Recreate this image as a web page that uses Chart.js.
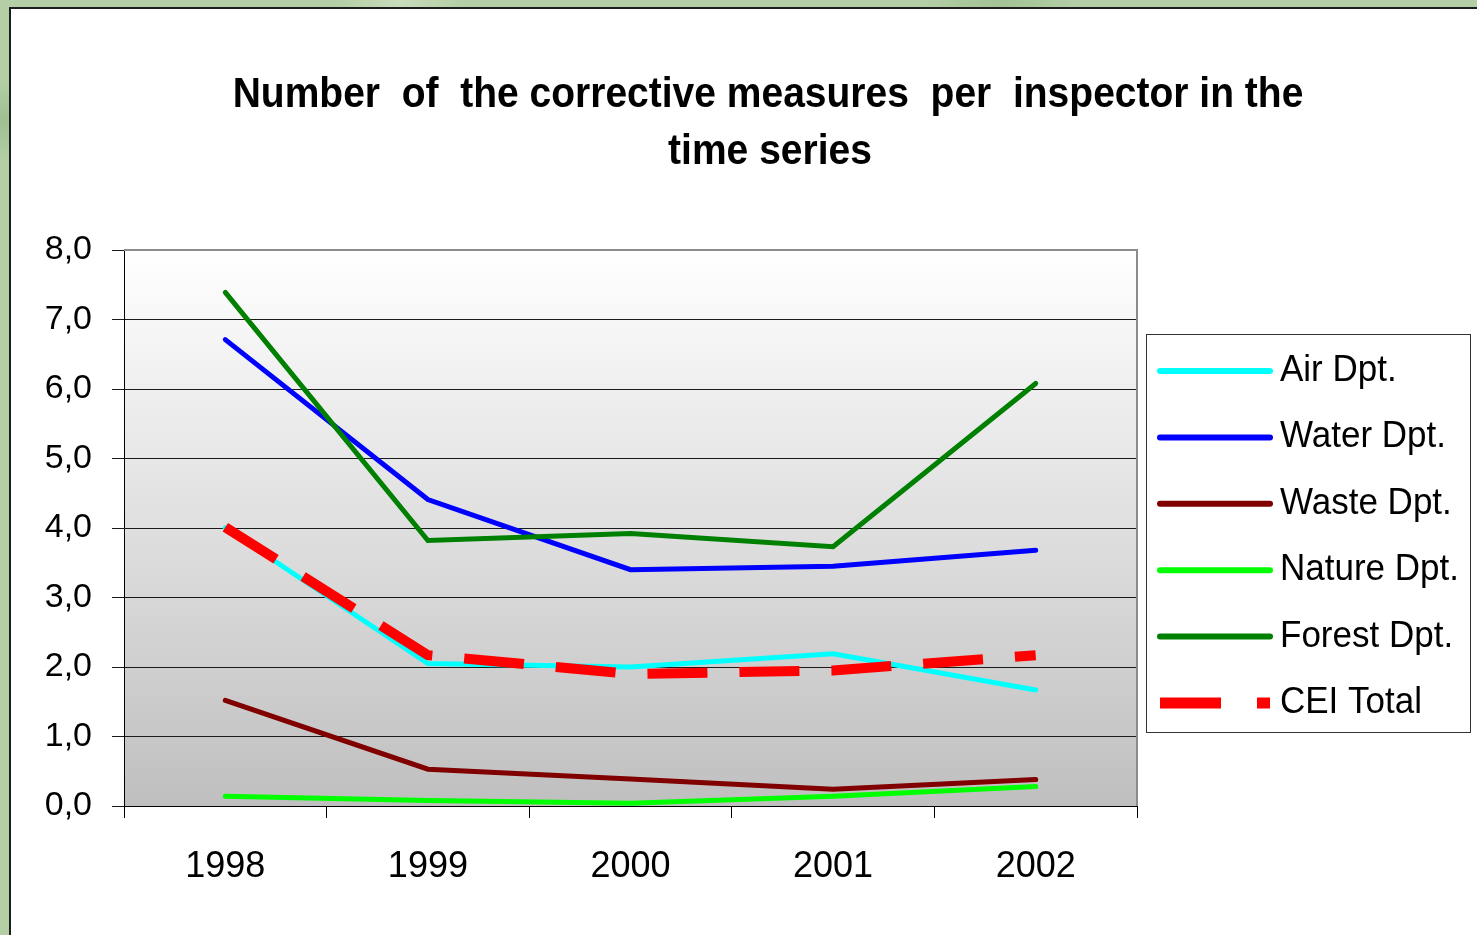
<!DOCTYPE html>
<html>
<head>
<meta charset="utf-8">
<title>Number of the corrective measures per inspector</title>
<script src="https://cdn.jsdelivr.net/npm/chart.js@4.4.1/dist/chart.umd.min.js"></script>
<style>
  html, body { margin: 0; padding: 0; }
  body {
    width: 1477px;
    height: 935px;
    overflow: hidden;
    position: relative;
    background-color: #b4cfa6;
    background-image:
      radial-gradient(circle at 3px 120px, #9fbf92 0, transparent 40px),
      radial-gradient(circle at 400px 2px, #c9dcbc 0, transparent 60px),
      radial-gradient(circle at 1000px 3px, #a3c295 0, transparent 80px);
  }
  .panel {
    position: absolute;
    left: 9px;
    top: 7px;
    width: 1490px;
    height: 950px;
    background: #ffffff;
    border: 2px solid #1e1e1e;
    box-sizing: border-box;
  }
  #chart { position: absolute; left: 0; top: 0; }
</style>
</head>
<body>
<div class="panel"></div>
<canvas id="chart" width="1477" height="935"></canvas>
<script>
// values
const years = ['1998', '1999', '2000', '2001', '2002'];
const airDpt = [4.00, 2.05, 2.00, 2.19, 1.67];
const waterDpt = [6.71, 4.41, 3.40, 3.45, 3.68];
const wasteDpt = [1.52, 0.53, 0.39, 0.24, 0.38];
const natureDpt = [0.14, 0.08, 0.04, 0.14, 0.28];
const forestDpt = [7.39, 3.82, 3.92, 3.73, 6.08];
const ceiTotal = [4.01, 2.17, 1.90, 1.95, 2.17];

const seriesNames = ['Air Dpt.', 'Water Dpt.', 'Waste Dpt.', 'Nature Dpt.', 'Forest Dpt.', 'CEI Total'];
const yTickLabels = ['0,0', '1,0', '2,0', '3,0', '4,0', '5,0', '6,0', '7,0', '8,0'];
const titleLines = ['Number  of  the corrective measures  per  inspector in the', 'time series'];

const FONT = '"Liberation Sans", Arial, sans-serif';
const colors = ['#00ffff', '#0000ff', '#800000', '#00ff00', '#008000', '#ff0000'];
const CEI_DASH = [60, 32];

const solidLine = (i, values) => ({
    label: seriesNames[i],
    data: values,
    borderColor: colors[i],
    backgroundColor: colors[i],
    borderWidth: 5,
    borderCapStyle: 'round',
    borderJoinStyle: 'miter',
    pointRadius: 0,
    tension: 0,
    order: 6 - i,
});

const datasets = [
    solidLine(0, airDpt),
    solidLine(1, waterDpt),
    solidLine(2, wasteDpt),
    solidLine(3, natureDpt),
    solidLine(4, forestDpt),
    {
        label: seriesNames[5],
        data: ceiTotal,
        borderColor: colors[5],
        backgroundColor: colors[5],
        borderWidth: 10,
        borderDash: CEI_DASH,
        borderCapStyle: 'butt',
        pointRadius: 0,
        tension: 0,
        order: 0,
    },
];

// gray gradient behind the plot
const plotBackground = {
    id: 'plotBackground',
    beforeDraw(chart) {
        const { ctx, chartArea: a } = chart;
        const g = ctx.createLinearGradient(0, a.top, 0, a.bottom);
        g.addColorStop(0, '#ffffff');
        g.addColorStop(1, '#bfbfbf');
        ctx.save();
        ctx.fillStyle = g;
        ctx.fillRect(a.left, a.top, a.right - a.left, a.bottom - a.top);
        ctx.restore();
    },
    beforeDatasetsDraw(chart) {
        const { ctx, chartArea: a } = chart;
        ctx.save();
        ctx.strokeStyle = '#8c8c8c';
        ctx.lineWidth = 2;
        ctx.beginPath();
        ctx.moveTo(a.left, a.top);
        ctx.lineTo(a.right, a.top);
        ctx.lineTo(a.right, a.bottom);
        ctx.stroke();
        ctx.restore();
    },
};

// text a bit taller than wide, like the original
function tallText(ctx, text, x, y, sy) {
    ctx.save();
    ctx.translate(x, y);
    ctx.scale(1, sy);
    ctx.fillText(text, 0, 0);
    ctx.restore();
}

// title and legend box drawn by hand
const decorations = {
    id: 'decorations',
    afterDraw(chart) {
        const { ctx } = chart;
        ctx.save();
        ctx.fillStyle = '#000';
        ctx.textAlign = 'center';
        ctx.textBaseline = 'alphabetic';
        ctx.font = 'bold 39px ' + FONT;
        tallText(ctx, titleLines[0], 768, 107, 1.1);
        tallText(ctx, titleLines[1], 770, 164, 1.1);

        // legend
        ctx.strokeStyle = '#333';
        ctx.lineWidth = 1;
        ctx.strokeRect(1146.5, 334.5, 324, 398);
        ctx.font = '35px ' + FONT;
        ctx.textAlign = 'left';
        ctx.textBaseline = 'alphabetic';
        chart.data.datasets.forEach((ds, i) => {
            const y = 371 + i * 66.4;
            ctx.beginPath();
            ctx.strokeStyle = ds.borderColor;
            if (ds.borderDash) {
                ctx.lineWidth = 11;
                ctx.lineCap = 'butt';
                ctx.setLineDash([61, 36]);
            } else {
                ctx.lineWidth = 6;
                ctx.lineCap = 'round';
                ctx.setLineDash([]);
            }
            ctx.moveTo(1160, y);
            ctx.lineTo(1270, y);
            ctx.stroke();
            ctx.setLineDash([]);
            ctx.fillStyle = '#000';
            tallText(ctx, ds.label, 1280, y + 10, 1.07);
        });
        ctx.restore();
    },
};

new Chart(document.getElementById('chart'), {
    type: 'line',
    data: { labels: years, datasets: datasets },
    options: {
        responsive: false,
        animation: false,
        events: [],
        layout: { padding: { top: 250, left: 44, right: 340, bottom: 49 } },
        plugins: {
            legend: { display: false },
            title: { display: false },
            tooltip: { enabled: false },
        },
        scales: {
            x: {
                offset: true,
                afterFit: (scale) => { scale.height = 80; },
                grid: {
                    display: true,
                    offset: true,
                    drawOnChartArea: false,
                    drawTicks: true,
                    tickLength: 12,
                    color: '#000',
                    lineWidth: 1,
                },
                border: { display: true, color: '#000', width: 1 },
                ticks: {
                    color: '#000',
                    padding: 27,
                    maxRotation: 0,
                    font: { family: FONT, size: 36 },
                },
            },
            y: {
                min: 0,
                max: 8,
                afterFit: (scale) => { scale.width = 80; },
                grid: {
                    color: '#1a1a1a',
                    lineWidth: 1,
                    tickLength: 12,
                    drawTicks: true,
                },
                border: { display: true, color: '#000', width: 1 },
                ticks: {
                    stepSize: 1,
                    color: '#000',
                    padding: 20,
                    font: { family: FONT, size: 34 },
                    callback: (value) => yTickLabels[value],
                },
            },
        },
    },
    plugins: [plotBackground, decorations],
});
</script>
</body>
</html>
